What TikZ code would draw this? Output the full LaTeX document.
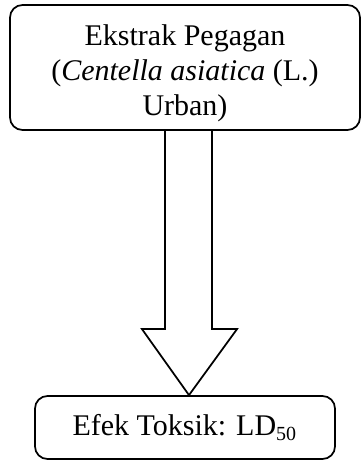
\documentclass[tikz,border=0pt]{standalone}
\usepackage{fontspec}
\setmainfont{Liberation Serif}
\usepackage{tikz}
\usetikzlibrary{calc}

\tikzset{
 kotak/.style={draw,rounded corners=5pt,align=center,inner sep=0pt},
 teks/.style={align=center,inner sep=0pt,font=\fontsize{12}{14}\selectfont},
 panah/.style={draw,line join=miter}
}

\begin{document}
\begin{tikzpicture}[x=0.4pt,y=0.4pt,line width=.7pt]
 \useasboundingbox (0,0) rectangle (361,460);
 \node[kotak,minimum width=140pt,minimum height=50pt] (ekstrak) at (185,392.5) {};
 \node[teks] (judul) at (185,387) {Ekstrak Pegagan\\(\textit{Centella asiatica} (L.)\\Urban)};
 \node[kotak,teks,draw,rounded corners=5pt,minimum width=120pt,minimum height=25.2pt] (efek) at (185,32.5) {Efek Toksik: LD\textsubscript{50}};
 \draw[panah] ($(ekstrak.south)+(-20,0)$) -- ($(efek.north)+(-20,66)$)
  -- ($(efek.north)+(-43,66)$) -- ($(efek.north)+(4,0)$)
  -- ($(efek.north)+(52,66)$) -- ($(efek.north)+(27,66)$)
  -- ($(ekstrak.south)+(27,0)$);
\end{tikzpicture}
\end{document}
